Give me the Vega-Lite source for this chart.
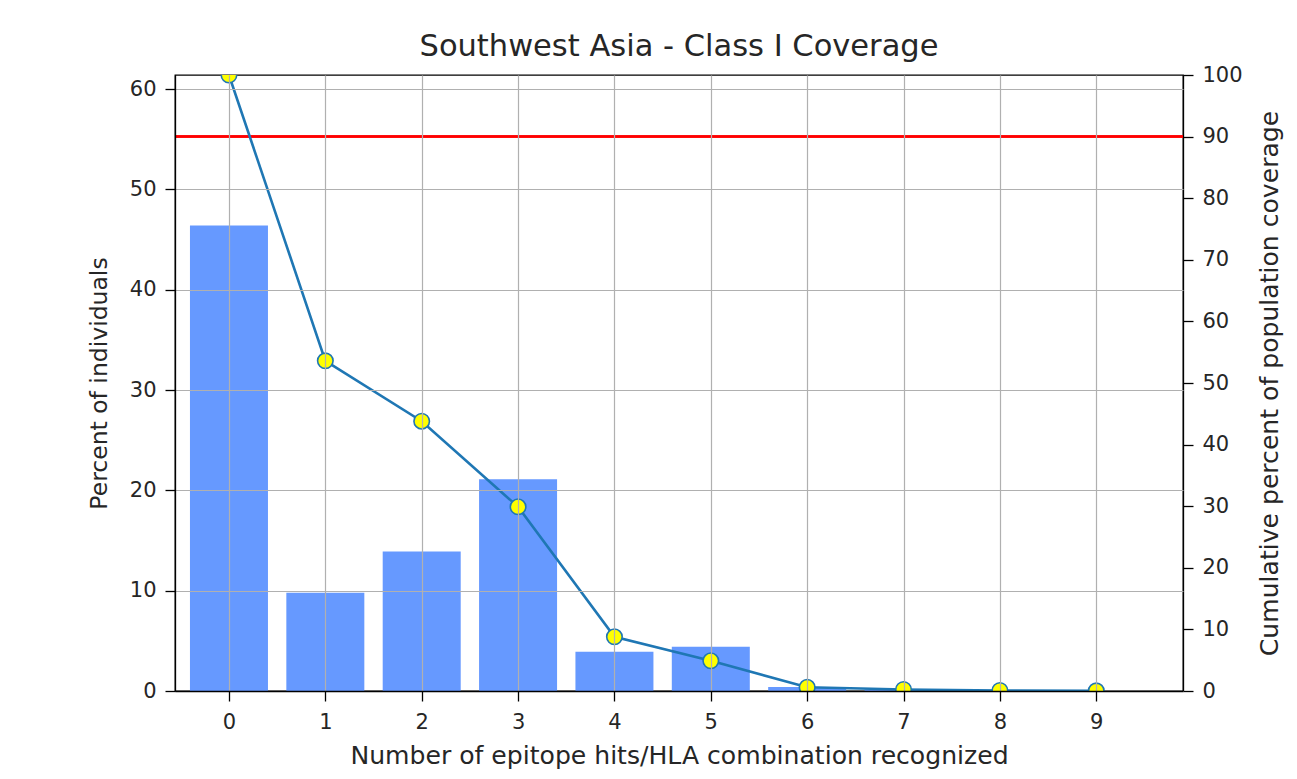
{
  "$schema": "https://vega.github.io/schema/vega-lite/v6.json",
  "width": 1008,
  "height": 616,
  "autosize": "none",
  "padding": {"left": 175, "top": 75, "right": 114, "bottom": 88},
  "background": "white",
  "config": {
    "font": "DejaVu Sans",
    "view": {"stroke": "black", "strokeWidth": 1.3},
    "axis": {
      "domainColor": "black",
      "domainWidth": 1.3,
      "tickColor": "black",
      "tickWidth": 1.3,
      "tickSize": 10,
      "labelFontSize": 21,
      "labelColor": "#262626",
      "titleFontSize": 24,
      "titleFontWeight": "normal",
      "titleColor": "#262626",
      "gridColor": "#b0b0b0",
      "gridWidth": 1.2,
      "gridOpacity": 1
    }
  },
  "title": {
    "text": "Southwest Asia - Class I Coverage",
    "fontSize": 30.5,
    "fontWeight": "normal",
    "color": "#262626",
    "anchor": "middle",
    "offset": 2
  },
  "data": {
    "values": [
      {"hits": 0, "pct": 46.4, "cum": 100.0},
      {"hits": 1, "pct": 9.8, "cum": 53.6},
      {"hits": 2, "pct": 13.9, "cum": 43.8},
      {"hits": 3, "pct": 21.1, "cum": 29.9},
      {"hits": 4, "pct": 3.9, "cum": 8.8},
      {"hits": 5, "pct": 4.4, "cum": 4.9},
      {"hits": 6, "pct": 0.4, "cum": 0.6},
      {"hits": 7, "pct": 0.15, "cum": 0.25},
      {"hits": 8, "pct": 0.05, "cum": 0.08},
      {"hits": 9, "pct": 0.0, "cum": 0.02}
    ]
  },
  "layer": [
    {
      "mark": {"type": "bar", "size": 78, "color": "#6699ff"},
      "encoding": {
        "x": {
          "field": "hits",
          "type": "quantitative",
          "scale": {"domain": [-0.56, 9.9], "nice": false, "zero": false, "padding": 0},
          "axis": {
            "values": [0, 1, 2, 3, 4, 5, 6, 7, 8, 9],
            "format": "d",
            "title": "Number of epitope hits/HLA combination recognized",
            "titleFontSize": 25.1,
            "titlePadding": 11,
            "labelPadding": 10,
            "zindex": 1,
            "grid": true
          }
        },
        "y": {
          "field": "pct",
          "type": "quantitative",
          "scale": {"domain": [0, 61.4], "nice": false, "padding": 0},
          "axis": {
            "values": [0, 10, 20, 30, 40, 50, 60],
            "title": "Percent of individuals",
            "titleFontSize": 23.5,
            "titlePadding": 18,
            "labelPadding": 9,
            "zindex": 1,
            "grid": true,
            "orient": "left"
          }
        }
      }
    },
    {
      "mark": {"type": "rule", "color": "red", "strokeWidth": 1.5},
      "encoding": {
        "y": {
          "datum": 90,
          "type": "quantitative",
          "scale": {"domain": [0, 100], "nice": false, "padding": 0},
          "axis": null
        }
      }
    },
    {
      "mark": {"type": "line", "color": "#1f77b4", "strokeWidth": 2.6, "clip": true},
      "encoding": {
        "x": {"field": "hits", "type": "quantitative"},
        "y": {
          "field": "cum",
          "type": "quantitative",
          "scale": {"domain": [0, 100], "nice": false, "padding": 0},
          "axis": {
            "orient": "right",
            "values": [0, 10, 20, 30, 40, 50, 60, 70, 80, 90, 100],
            "title": "Cumulative percent of population coverage",
            "titleFontSize": 25.1,
            "titleAngle": -90,
            "titleBaseline": "top",
            "titlePadding": 15,
            "labelPadding": 9,
            "grid": false
          }
        }
      }
    },
    {
      "mark": {"type": "point", "shape": "circle", "filled": true, "fill": "yellow", "stroke": "#1f77b4", "strokeWidth": 1.6, "size": 240, "opacity": 1, "clip": true},
      "encoding": {
        "x": {"field": "hits", "type": "quantitative"},
        "y": {
          "field": "cum",
          "type": "quantitative",
          "scale": {"domain": [0, 100], "nice": false, "padding": 0},
          "axis": null
        }
      }
    }
  ],
  "resolve": {"scale": {"y": "independent"}}
}
